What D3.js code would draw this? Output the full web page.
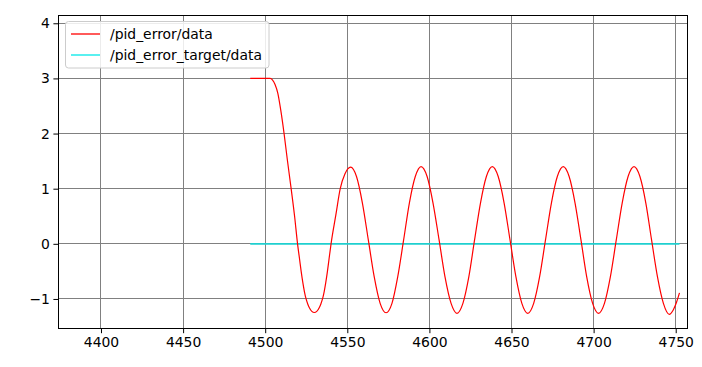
<!DOCTYPE html>
<html><head><meta charset="utf-8">
<script src="https://cdn.jsdelivr.net/npm/d3@7"></script>
<style>
body{margin:0;background:#fff}
svg{display:block}
text{font-family:"DejaVu Sans",sans-serif}
</style>
</head><body>
<svg id="c" width="702" height="367"></svg>
<script>
// ---- data ----
const errorX = [4490.9,4503.0,4504.5,4506.0,4507.7,4509.5,4511.5,4513.5,4515.8,4517.9,
  4519.7,4520.9,4521.9,4522.9,4523.9,4524.9,4525.9,4526.9,4528.4,4529.9,4531.4,4532.9,4533.9,4534.9,4535.9,4536.9,4537.9,4538.9,4540.1,
  4543.0,4545.7,4548.6,4552.0,
  4555.6,4559.2,4562.8,4566.4,4570.0,4573.6,4577.2,4580.7,4584.3,4587.8,4591.4,4594.9,
  4598.6,4602.2,4605.9,4609.5,4613.2,4616.8,4620.4,4624.0,4627.5,4631.1,4634.7,4638.3,
  4641.9,4645.5,4649.1,4652.7,4656.3,4659.9,4663.5,4667.1,4670.7,4674.3,4677.9,4681.5,
  4685.1,4688.7,4692.3,4695.8,4699.4,4703.0,4706.6,4710.2,4713.8,4717.4,4721.0,4724.6,
  4728.2,4731.8,4735.3,4738.9,4742.5,4746.1,4748.5,4750.5,4752.3];
const errorY = [3.0,3.0,2.97,2.89,2.73,2.42,2.0,1.52,1.0,0.5,
  0.0,-0.27,-0.5,-0.7,-0.87,-1.0,-1.09,-1.16,-1.225,-1.245,-1.225,-1.16,-1.09,-1.0,-0.87,-0.7,-0.5,-0.27,0.0,
  0.52,1.0,1.27,1.39,
  1.22,0.74,0.07,-0.60,-1.08,-1.25,-1.08,-0.60,0.07,0.74,1.22,1.40,
  1.22,0.74,0.07,-0.60,-1.08,-1.26,-1.08,-0.60,0.07,0.74,1.22,1.40,
  1.22,0.74,0.07,-0.60,-1.08,-1.26,-1.08,-0.60,0.07,0.74,1.22,1.40,
  1.22,0.74,0.07,-0.60,-1.08,-1.26,-1.08,-0.60,0.07,0.74,1.22,1.40,
  1.22,0.74,0.07,-0.60,-1.08,-1.28,-1.20,-1.06,-0.89];
const targetX = [4490.9, 4752.3];
const targetY = [0, 0];
const xTicks = [4400,4450,4500,4550,4600,4650,4700,4750];
const yTicks = [-1,0,1,2,3,4];
const seriesNames = ["/pid_error/data","/pid_error_target/data"];
const seriesColors = ["#ff0000","#1fcfcf"];
const legendColors = ["#ff0000","#00e8e8"];

// ---- layout ----
const L = 58.3, R = 687.7, T = 15, B = 328.3;
const svg = d3.select("#c");
const x = d3.scaleLinear().domain([4374, 4757.3]).range([L, R]);
const y = d3.scaleLinear().domain([-1.532, 4.15]).range([B, T]);
const fs = "13.9px";

// grid
const grid = svg.append("g");
grid.selectAll("line.gx").data(xTicks).join("line")
  .attr("x1", d => Math.floor(x(d)) + 0.5).attr("x2", d => Math.floor(x(d)) + 0.5)
  .attr("y1", T).attr("y2", B).attr("stroke", "#808080").attr("stroke-width", 1);
grid.selectAll("line.gy").data(yTicks).join("line")
  .attr("y1", d => Math.floor(y(d)) + 0.5).attr("y2", d => Math.floor(y(d)) + 0.5)
  .attr("x1", L).attr("x2", R).attr("stroke", "#808080").attr("stroke-width", 1);

// series
svg.append("clipPath").attr("id", "clp").append("rect")
  .attr("x", L).attr("y", T).attr("width", R - L).attr("height", B - T);
const errPts = errorX.map((v, i) => [v, errorY[i]]);
const tgtPts = targetX.map((v, i) => [v, targetY[i]]);
const plot = svg.append("g").attr("clip-path", "url(#clp)");
plot.append("path").datum(tgtPts)
  .attr("d", d3.line().x(d => x(d[0])).y(d => y(d[1])))
  .attr("fill", "none").attr("stroke", seriesColors[1]).attr("stroke-width", 1.7);
plot.append("path").datum(errPts)
  .attr("d", d3.line().x(d => x(d[0])).y(d => y(d[1])).curve(d3.curveMonotoneX))
  .attr("fill", "none").attr("stroke", seriesColors[0]).attr("stroke-width", 1.2);

// axes
const xa = svg.append("g").attr("transform", `translate(0,${B})`)
  .call(d3.axisBottom(x).tickValues(xTicks).tickSize(4.9).tickPadding(3.5).tickFormat(d3.format("d")));
const ya = svg.append("g").attr("transform", `translate(${L},0)`)
  .call(d3.axisLeft(y).tickValues(yTicks).tickSize(4.9).tickPadding(3.5).tickFormat(d3.format("d")));
[xa, ya].forEach(a => {
  a.select(".domain").remove();
  a.selectAll("line").attr("stroke", "#000").attr("stroke-width", 1);
  a.selectAll("text").attr("fill", "#000").style("font-size", fs).style("font-family", '"DejaVu Sans",sans-serif');
});

// frame
svg.append("rect").attr("x", Math.floor(L) + 0.5).attr("y", T + 0.5)
  .attr("width", Math.round(R - L)).attr("height", Math.round(B - T))
  .attr("fill", "none").attr("stroke", "#000").attr("stroke-width", 1);

// legend
const lg = svg.append("g");
lg.append("rect").attr("x", 65.5).attr("y", 21.5).attr("width", 203.5).attr("height", 46.5)
  .attr("rx", 3).attr("fill", "#fff").attr("fill-opacity", 0.85)
  .attr("stroke", "#cccccc").attr("stroke-width", 1);
const legY = [34, 55];
seriesNames.forEach((n, i) => {
  lg.append("line").attr("x1", 71).attr("x2", 100).attr("y1", legY[i]).attr("y2", legY[i])
    .attr("stroke", legendColors[i]).attr("stroke-width", 1.3);
  lg.append("text").attr("x", 110).attr("y", legY[i]).attr("dy", "0.36em")
    .style("font-size", fs).attr("fill", "#000").text(n);
});
</script>
</body></html>
